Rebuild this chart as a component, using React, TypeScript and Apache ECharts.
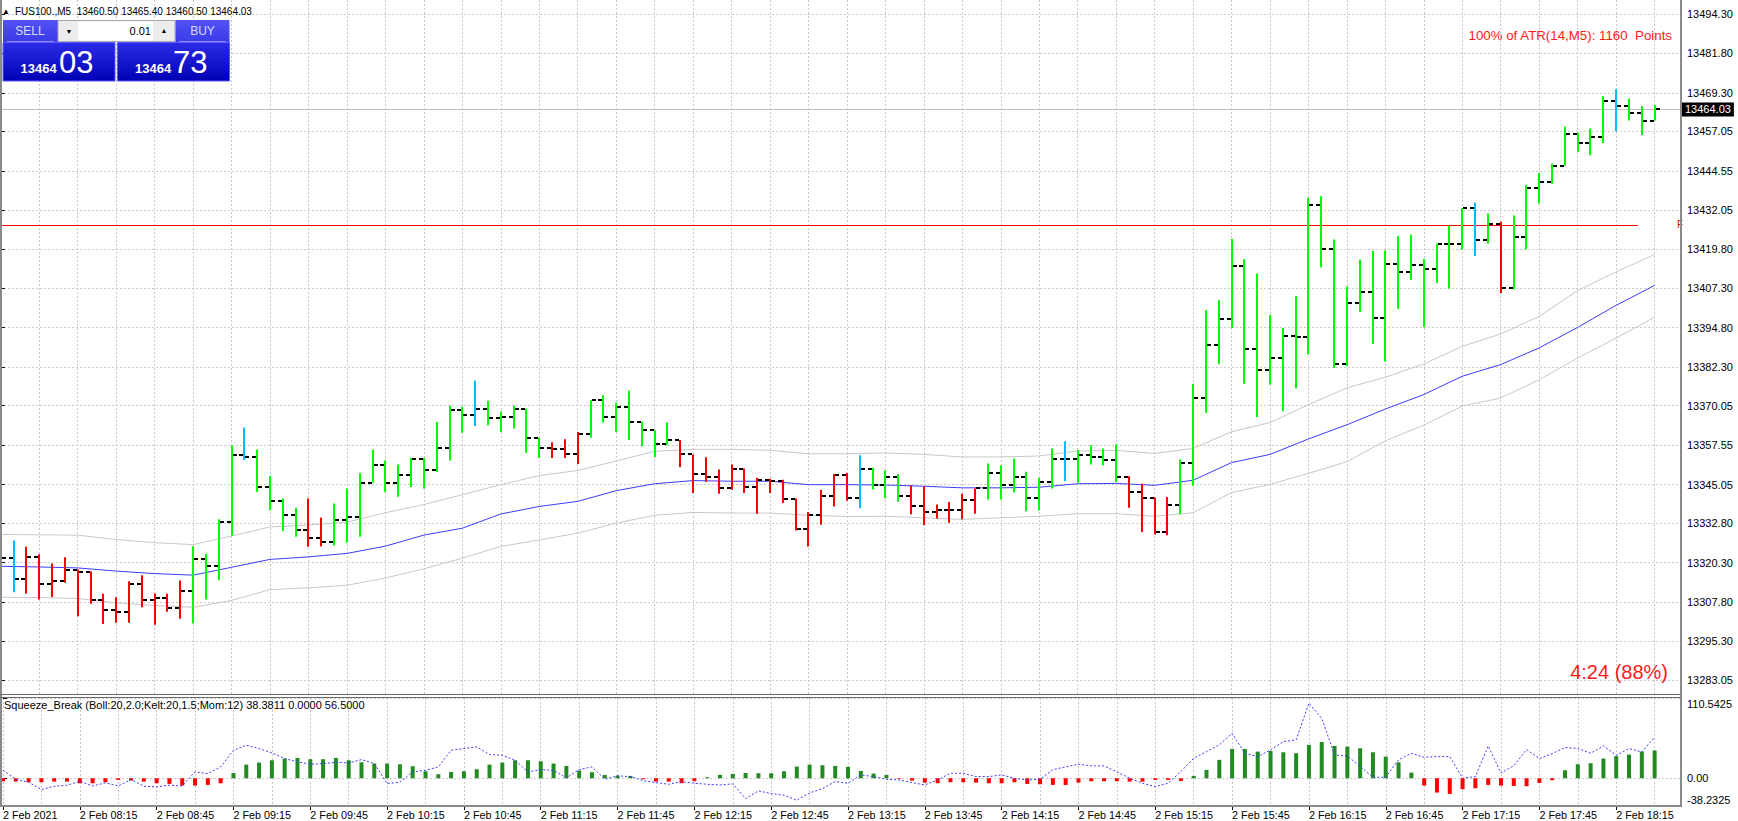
import React, { useEffect, useRef } from "react";
import * as echarts from "echarts";

// ---------- data ----------
const barOpen = [
  13320.0, 13321.6, 13315.1, 13322.1, 13313.5, 13314.4, 13317.9, 13317.4, 13308.4, 13305.4,
  13304.7, 13313.5, 13308.3, 13309.1, 13305.9, 13311.2, 13321.5, 13319.1, 13333.2, 13354.3,
  13353.8, 13344.3, 13339.8, 13335.5, 13330.6, 13328.1, 13326.8, 13333.7, 13334.7, 13345.6,
  13351.2, 13345.4, 13348.2, 13353.3, 13349.8, 13356.7, 13368.6, 13367.1, 13369.1, 13366.1,
  13366.5, 13368.9, 13359.9, 13356.5, 13356.2, 13354.8, 13361.0, 13371.8, 13366.5, 13369.7,
  13365.0, 13362.3, 13357.8, 13359.2, 13354.6, 13348.4, 13347.4, 13344.0, 13350.1, 13344.2,
  13346.4, 13346.3, 13340.6, 13330.9, 13335.3, 13341.3, 13348.2, 13340.8, 13350.1, 13344.8,
  13347.4, 13341.4, 13338.2, 13336.3, 13336.9, 13336.9, 13340.0, 13343.8, 13348.6, 13344.8,
  13347.5, 13340.7, 13345.8, 13353.2, 13353.0, 13354.3, 13353.8, 13352.8, 13347.5, 13342.7,
  13340.9, 13330.1, 13338.7, 13352.0, 13372.4, 13389.3, 13397.7, 13414.4, 13387.9, 13381.3,
  13385.3, 13392.1, 13391.8, 13433.7, 13419.9, 13383.4, 13402.7, 13406.1, 13397.9, 13415.0,
  13412.5, 13414.8, 13413.4, 13421.5, 13421.5, 13432.8, 13422.5, 13427.8, 13407.4, 13423.6,
  13439.2, 13441.0, 13446.2, 13456.1, 13453.4, 13455.3, 13466.7, 13465.1, 13463.0, 13460.5,
];
const barHigh = [
  13326.2, 13327.3, 13325.3, 13322.9, 13320.0, 13322.0, 13318.1, 13317.5, 13310.4, 13309.3,
  13314.4, 13316.3, 13310.5, 13310.4, 13314.6, 13325.5, 13323.1, 13334.0, 13357.4, 13363.1,
  13356.2, 13347.7, 13340.6, 13337.7, 13340.6, 13334.5, 13339.0, 13343.8, 13348.6, 13356.2,
  13352.7, 13351.4, 13353.5, 13353.5, 13364.9, 13370.0, 13369.7, 13378.0, 13371.6, 13368.2,
  13370.0, 13369.1, 13359.9, 13358.5, 13359.4, 13361.7, 13371.8, 13373.4, 13371.0, 13374.8,
  13365.0, 13362.3, 13364.7, 13359.2, 13354.6, 13353.7, 13349.8, 13351.4, 13350.1, 13347.2,
  13346.9, 13346.6, 13340.6, 13336.3, 13343.4, 13348.4, 13348.7, 13354.3, 13350.4, 13349.5,
  13348.3, 13344.8, 13344.4, 13338.7, 13339.5, 13342.1, 13343.8, 13351.7, 13351.2, 13353.3,
  13349.1, 13347.2, 13356.5, 13358.8, 13355.9, 13357.5, 13356.5, 13357.8, 13347.7, 13345.3,
  13340.9, 13341.1, 13353.0, 13377.0, 13400.3, 13403.5, 13422.9, 13416.5, 13412.0, 13398.8,
  13394.7, 13404.8, 13436.0, 13436.5, 13422.8, 13407.9, 13416.4, 13419.1, 13419.3, 13423.8,
  13424.3, 13416.6, 13421.5, 13427.2, 13432.8, 13434.4, 13431.0, 13428.4, 13430.4, 13440.0,
  13443.9, 13446.9, 13458.5, 13456.6, 13458.0, 13468.2, 13470.4, 13467.5, 13465.1, 13465.4,
];
const barLow = [
  13318.1, 13310.9, 13310.5, 13308.6, 13309.4, 13313.9, 13303.3, 13307.2, 13300.8, 13301.2,
  13301.2, 13306.1, 13300.6, 13304.7, 13302.5, 13301.0, 13308.6, 13314.7, 13328.9, 13352.8,
  13342.7, 13336.9, 13330.3, 13328.5, 13325.3, 13325.5, 13325.7, 13326.6, 13328.5, 13345.6,
  13342.7, 13341.2, 13344.3, 13343.8, 13349.0, 13352.7, 13361.5, 13363.6, 13363.8, 13361.7,
  13362.8, 13355.1, 13353.5, 13353.5, 13353.5, 13351.6, 13359.9, 13364.7, 13361.7, 13359.2,
  13357.2, 13353.8, 13357.5, 13350.6, 13342.4, 13345.9, 13342.1, 13343.4, 13342.4, 13335.8,
  13342.4, 13339.2, 13330.5, 13325.4, 13332.3, 13338.1, 13339.9, 13337.5, 13343.5, 13340.7,
  13339.6, 13335.6, 13332.2, 13334.3, 13332.9, 13334.0, 13335.8, 13340.3, 13340.3, 13342.5,
  13336.6, 13336.8, 13343.8, 13346.2, 13345.6, 13351.4, 13351.1, 13345.8, 13337.7, 13330.0,
  13329.2, 13329.0, 13335.6, 13344.6, 13367.8, 13383.2, 13394.6, 13377.0, 13366.5, 13376.8,
  13368.3, 13375.5, 13386.3, 13414.0, 13382.0, 13382.6, 13399.8, 13389.6, 13384.1, 13400.8,
  13409.9, 13394.9, 13409.0, 13407.2, 13419.6, 13417.5, 13421.5, 13405.8, 13406.9, 13419.6,
  13434.2, 13440.5, 13446.2, 13450.6, 13449.5, 13453.4, 13457.1, 13460.5, 13455.9, 13460.5,
];
const barClose = [
  13321.6, 13315.1, 13322.1, 13313.5, 13314.4, 13317.9, 13317.4, 13308.4, 13305.4, 13304.7,
  13313.5, 13308.3, 13309.1, 13305.9, 13311.2, 13321.5, 13319.1, 13333.2, 13354.3, 13353.8,
  13344.3, 13339.8, 13335.5, 13330.6, 13328.1, 13326.8, 13333.7, 13334.7, 13345.6, 13351.2,
  13345.4, 13348.2, 13353.3, 13349.8, 13356.7, 13368.6, 13367.1, 13369.1, 13366.1, 13366.5,
  13368.9, 13359.9, 13356.5, 13356.2, 13354.8, 13361.0, 13371.8, 13366.5, 13369.7, 13365.0,
  13362.3, 13357.8, 13359.2, 13354.6, 13348.4, 13347.4, 13344.0, 13350.1, 13344.2, 13346.4,
  13346.3, 13340.6, 13330.9, 13335.3, 13341.3, 13348.2, 13340.8, 13350.1, 13344.8, 13347.4,
  13341.4, 13338.2, 13336.3, 13336.9, 13336.9, 13340.0, 13343.8, 13348.6, 13344.8, 13347.5,
  13340.7, 13345.8, 13353.2, 13353.0, 13354.3, 13353.8, 13352.8, 13347.5, 13342.7, 13340.9,
  13330.1, 13338.7, 13352.0, 13372.4, 13389.3, 13397.7, 13414.4, 13387.9, 13381.3, 13385.3,
  13392.1, 13391.8, 13433.7, 13419.9, 13383.4, 13402.7, 13406.1, 13397.9, 13415.0, 13412.5,
  13414.8, 13413.4, 13421.5, 13421.5, 13432.8, 13422.5, 13427.8, 13407.4, 13423.6, 13439.2,
  13441.0, 13446.2, 13456.1, 13453.4, 13455.3, 13466.7, 13465.1, 13463.0, 13460.5, 13464.03,
];
// g = green, r = red, b = blue bar colouring
const barTone = (
  "gb" + "rrrrrrrrrrrrr" + "gggg" + "b" + "gggg" + "rr" + "ggggggggggg" + "b" + "ggggg" + "rrr" +
  "ggggggg" + "rrrrrrrrrrrrrr" + "b" + "ggg" + "rrrrrr" + "gggggg" + "b" + "gggg" + "rrrr" +
  "ggggggggggggggggggggggg" + "b" + "g" + "r" + "gggggggg" + "b" + "ggg"
).split("");

// envelope (read every 3 bars)
const bandBars = [
  0, 3, 6, 9, 12, 15, 18, 21, 24, 27, 30, 33, 36, 39, 42, 45, 48, 51, 54, 57, 60, 63,
  66, 69, 72, 75, 78, 81, 84, 87, 90, 93, 96, 99, 102, 105, 108, 111, 114, 117, 120, 123, 126, 129,
];
const maMid = [
  13319.1, 13318.9, 13318.6, 13317.6, 13316.8, 13316.3, 13318.8, 13321.3, 13322.1, 13323.2, 13325.5,
  13329.0, 13331.2, 13335.7, 13338.1, 13339.7, 13343.1, 13345.3, 13346.3, 13346.1, 13346.1, 13345.0,
  13345.0, 13344.9, 13344.5, 13344.0, 13344.0, 13344.2, 13345.3, 13345.4, 13344.8, 13346.4, 13352.0,
  13354.6, 13359.5, 13364.0, 13369.0, 13373.6, 13379.4, 13383.1, 13388.4, 13394.9, 13401.9, 13408.2,
];
const bandUpper = [
  13329.2, 13329.1, 13329.0, 13327.6, 13326.6, 13326.0, 13328.7, 13331.6, 13332.2, 13333.1, 13336.1,
  13338.7, 13341.8, 13345.0, 13347.9, 13349.5, 13352.5, 13355.6, 13356.2, 13356.2, 13355.9, 13354.8,
  13354.8, 13355.1, 13354.6, 13353.8, 13353.8, 13354.1, 13355.7, 13355.9, 13354.9, 13356.5, 13361.8,
  13364.7, 13370.4, 13375.7, 13379.1, 13383.3, 13388.9, 13392.8, 13398.4, 13406.6, 13412.5, 13418.0,
];
const bandLower = [
  13309.3, 13309.2, 13308.9, 13307.5, 13306.7, 13306.1, 13308.3, 13311.7, 13312.3, 13313.1, 13315.4,
  13318.3, 13321.7, 13325.4, 13327.5, 13329.6, 13332.8, 13335.3, 13336.2, 13336.0, 13336.0, 13335.3,
  13334.9, 13335.0, 13334.5, 13334.0, 13334.5, 13335.0, 13335.8, 13335.8, 13335.0, 13336.1, 13342.5,
  13345.1, 13348.6, 13352.3, 13358.9, 13363.9, 13369.9, 13372.5, 13378.3, 13385.2, 13391.5, 13398.1,
];

const squeezeHist = [
  -4.1, -4.6, -5.5, -5.5, -4.6, -4.6, -6.9, -6.9, -5.5, -2.3,
  -3.2, -4.6, -6.9, -7.8, -10.1, -10.1, -9.2, -6.9, 7.3, 18.8,
  21.6, 24.8, 27.1, 28.0, 26.2, 26.2, 28.0, 24.8, 22.0, 20.2,
  20.2, 19.3, 16.5, 9.6, 5.5, 8.7, 9.6, 12.4, 18.8, 21.6,
  24.8, 24.8, 23.4, 20.2, 17.0, 10.5, 8.3, 4.6, 3.7, 3.2,
  -1.4, -4.6, -4.6, -6.9, -4.1, 1.4, 4.6, 6.0, 7.3, 6.9,
  6.9, 9.6, 16.1, 18.8, 17.9, 17.0, 15.6, 10.1, 6.4, 4.6,
  -0.9, -3.2, -6.0, -6.9, -5.5, -5.5, -6.0, -6.9, -6.9, -5.5,
  -7.8, -8.3, -9.2, -9.2, -6.0, -4.1, -4.1, -4.1, -4.6, -4.6,
  -2.3, -2.3, -3.7, 3.2, 11.5, 25.3, 40.4, 40.4, 36.7, 37.6,
  35.8, 34.4, 45.9, 50.0, 44.5, 43.6, 41.3, 35.8, 29.8, 22.0,
  7.8, -10.1, -19.7, -21.6, -15.1, -13.8, -9.2, -10.1, -10.6, -11.0,
  -6.5, -2.7, 11.0, 19.3, 20.7, 27.1, 30.5, 32.6, 36.7, 38.3811,
];
const squeezeMom = [
  11.0, -1.4, -5.5, -15.6, -11.0, -9.6, -4.1, -10.6, -6.4, -10.6,
  -1.8, -11.0, -11.9, -9.6, -10.6, 8.7, 6.4, 15.6, 38.6, 45.5,
  40.9, 34.9, 27.1, 22.5, 19.3, 20.2, 22.0, 21.1, 25.7, 20.2,
  -7.3, -5.5, 8.7, 11.0, 15.6, 38.6, 40.9, 43.2, 32.6, 31.7,
  24.8, 8.7, 11.9, 11.0, 0.5, 11.9, 15.6, -1.4, 3.2, 2.3,
  -3.2, -6.0, -8.3, -4.6, -6.9, -8.3, -9.2, -7.8, -27.9, -17.4,
  -21.1, -23.4, -30.3, -20.2, -14.2, -4.6, -6.9, 4.6, 2.3, -1.4,
  -2.3, -6.0, -9.2, -2.3, 6.9, 6.9, 2.3, 2.3, 4.6, 0.0,
  -2.3, -1.4, 11.9, 15.6, 19.3, 17.0, 17.0, 8.7, 0.0, -6.9,
  -11.5, -6.9, 9.2, 27.5, 36.7, 45.9, 61.9, 34.4, 29.8, 39.0,
  50.5, 52.8, 103.3, 82.6, 32.1, 30.7, 16.1, 1.4, 1.4, 25.3,
  34.4, 28.9, 29.8, 29.8, 0.0, 2.3, 44.5, 7.3, 17.2, 39.5,
  27.1, 34.0, 42.3, 40.9, 34.4, 44.5, 31.7, 40.9, 36.2, 56.5,
];

const timeLabels = [
  "2 Feb 2021", "2 Feb 08:15", "2 Feb 08:45", "2 Feb 09:15", "2 Feb 09:45", "2 Feb 10:15",
  "2 Feb 10:45", "2 Feb 11:15", "2 Feb 11:45", "2 Feb 12:15", "2 Feb 12:45", "2 Feb 13:15",
  "2 Feb 13:45", "2 Feb 14:15", "2 Feb 14:45", "2 Feb 15:15", "2 Feb 15:45", "2 Feb 16:15",
  "2 Feb 16:45", "2 Feb 17:15", "2 Feb 17:45", "2 Feb 18:15",
];
const timeLabelBars = [0, 6, 12, 18, 24, 30, 36, 42, 48, 54, 60, 66, 72, 78, 84, 90, 96, 102, 108, 114, 120, 126];
const gridBars = bandBars;
const priceTicks = [
  13494.3, 13481.8, 13469.3, 13457.05, 13444.55, 13432.05, 13419.8, 13407.3, 13394.8,
  13382.3, 13370.05, 13357.55, 13345.05, 13332.8, 13320.3, 13307.8, 13295.3, 13283.05,
];
const indicatorTicks = [-38.2325, 0, 110.5425];

const lastPrice = 13464.03;
const redLevel = 13427.3;
const redLineEndBar = 127.7;

const XMIN = -0.0624;
const XMAX = 131.06;
const PMIN = 13278.29;
const PMAX = 13498.74;
const IMIN = -38.2325;
const IMAX = 110.5425;

const toneColor: Record<string, string> = { g: "#00ff00", r: "#ff0000", b: "#00bfff" };
const FONT = "Liberation Sans";
const GRIDLINE = { show: true, lineStyle: { color: "#c8c8c8", width: 1, type: [2, 2] as any } };

function buildOption(): any {
  const ohlc = barOpen.map((o, i) => [i, o, barHigh[i], barLow[i], barClose[i]]);
  const lg = (a: string, b: string) =>
    new echarts.graphic.LinearGradient(0, 0, 0, 1, [
      { offset: 0, color: a },
      { offset: 1, color: b },
    ]);
  const BORDER = "#6b6b6b";
  const graphic: any[] = [
    // pane borders
    { type: "line", z: 50, shape: { x1: 1, y1: 0, x2: 1, y2: 806 }, style: { stroke: "#8a8a8a", lineWidth: 2 } },
    { type: "line", z: 50, shape: { x1: 0, y1: 694.5, x2: 1681, y2: 694.5 }, style: { stroke: BORDER, lineWidth: 1 } },
    { type: "line", z: 50, shape: { x1: 0, y1: 697.5, x2: 1681, y2: 697.5 }, style: { stroke: BORDER, lineWidth: 1 } },
    { type: "line", z: 50, shape: { x1: 0, y1: 806, x2: 1682, y2: 806 }, style: { stroke: "#8a8a8a", lineWidth: 2 } },
    { type: "line", z: 50, shape: { x1: 1681, y1: 0, x2: 1681, y2: 807 }, style: { stroke: "#8a8a8a", lineWidth: 2 } },
    // symbol header
    { type: "text", z: 60, style: { x: 2, y: 11, text: "▲", font: `8px ${FONT}`, fill: "#000", verticalAlign: "middle" } },
    {
      type: "text", z: 60,
      style: { x: 15, y: 11, text: "FUS100.,M5  13460.50 13465.40 13460.50 13464.03", font: `10px ${FONT}`, fill: "#000", verticalAlign: "middle" },
    },
    // one-click trading panel
    { type: "rect", z: 60, shape: { x: 3, y: 20, width: 55, height: 22 }, style: { fill: lg("#5252f4", "#3a3aea") } },
    { type: "line", z: 61, shape: { x1: 7, y1: 41.5, x2: 54, y2: 41.5 }, style: { stroke: "#8c8cff", lineWidth: 1 } },
    { type: "text", z: 61, style: { x: 30, y: 31, text: "SELL", font: `12px ${FONT}`, fill: "#d4dcff", align: "center", verticalAlign: "middle" } },
    { type: "rect", z: 60, shape: { x: 58, y: 20.5, width: 117, height: 21 }, style: { fill: "#ececec", stroke: "#a8a8a8", lineWidth: 1 } },
    { type: "rect", z: 61, shape: { x: 78, y: 21.5, width: 75, height: 19 }, style: { fill: "#ffffff" } },
    { type: "text", z: 62, style: { x: 69, y: 31, text: "▼", font: `7px ${FONT}`, fill: "#000", align: "center", verticalAlign: "middle" } },
    { type: "text", z: 62, style: { x: 164, y: 30, text: "▲", font: `7px ${FONT}`, fill: "#000", align: "center", verticalAlign: "middle" } },
    { type: "text", z: 62, style: { x: 151, y: 31, text: "0.01", font: `11px ${FONT}`, fill: "#000", align: "right", verticalAlign: "middle" } },
    { type: "rect", z: 60, shape: { x: 175.5, y: 20, width: 54, height: 22 }, style: { fill: lg("#5252f4", "#3a3aea") } },
    { type: "line", z: 61, shape: { x1: 179, y1: 41.5, x2: 226, y2: 41.5 }, style: { stroke: "#8c8cff", lineWidth: 1 } },
    { type: "text", z: 61, style: { x: 202.5, y: 31, text: "BUY", font: `12px ${FONT}`, fill: "#d4dcff", align: "center", verticalAlign: "middle" } },
    { type: "rect", z: 60, shape: { x: 3, y: 42.5, width: 112, height: 38.5 }, style: { fill: lg("#2c2ce8", "#0000b4"), stroke: "#5a5aff", lineWidth: 1 } },
    { type: "rect", z: 60, shape: { x: 117.5, y: 42.5, width: 112, height: 38.5 }, style: { fill: lg("#2c2ce8", "#0000b4"), stroke: "#5a5aff", lineWidth: 1 } },
    { type: "text", z: 61, style: { x: 20.5, y: 68.5, text: "13464", font: `bold 13px ${FONT}`, fill: "#fff", verticalAlign: "middle" } },
    { type: "text", z: 61, style: { x: 59, y: 62.5, text: "03", font: `31px ${FONT}`, fill: "#fff", verticalAlign: "middle" } },
    { type: "text", z: 61, style: { x: 135, y: 68.5, text: "13464", font: `bold 13px ${FONT}`, fill: "#fff", verticalAlign: "middle" } },
    { type: "text", z: 61, style: { x: 173, y: 62.5, text: "73", font: `31px ${FONT}`, fill: "#fff", verticalAlign: "middle" } },
    // info texts
    {
      type: "text", z: 60,
      style: { x: 1672, y: 35, text: "100% of ATR(14,M5): 1160  Points", font: `13.3px ${FONT}`, fill: "#ff1a1a", align: "right", verticalAlign: "middle" },
    },
    { type: "text", z: 60, style: { x: 1668, y: 672, text: "4:24 (88%)", font: `20px ${FONT}`, fill: "#ff1a1a", align: "right", verticalAlign: "middle" } },
    { type: "text", z: 40, style: { x: 1677, y: 224.5, text: "F", font: `10px ${FONT}`, fill: "#ff0000", verticalAlign: "middle" } },
    {
      type: "text", z: 60,
      style: { x: 4, y: 705, text: "Squeeze_Break (Boll:20,2.0;Kelt:20,1.5;Mom:12) 38.3811 0.0000 56.5000", font: `11px ${FONT}`, fill: "#000", verticalAlign: "middle" },
    },
  ];

  return {
    animation: false,
    backgroundColor: "#ffffff",
    textStyle: { fontFamily: FONT },
    grid: [
      { left: 0, top: 0, width: 1681, height: 695 },
      { left: 0, top: 698, width: 1681, height: 108 },
    ],
    xAxis: [
      {
        type: "value", gridIndex: 0, min: XMIN, max: XMAX,
        axisLine: { show: false }, axisLabel: { show: false },
        axisTick: { show: false, customValues: gridBars },
        splitLine: GRIDLINE,
      },
      {
        type: "value", gridIndex: 1, min: XMIN, max: XMAX,
        axisLine: { show: false }, axisLabel: { show: false },
        axisTick: { show: false, customValues: gridBars },
        splitLine: GRIDLINE,
      },
      {
        type: "value", gridIndex: 1, min: XMIN, max: XMAX, position: "bottom",
        axisLine: { show: false },
        splitLine: { show: false },
        axisTick: { show: true, length: 4, customValues: timeLabelBars, lineStyle: { color: "#000" } },
        axisLabel: {
          customValues: timeLabelBars, align: "left", margin: 3, fontSize: 10.8, color: "#000", fontFamily: FONT,
          formatter: (v: number) => timeLabels[timeLabelBars.indexOf(Math.round(v))] ?? "",
        },
      },
    ],
    yAxis: [
      {
        type: "value", gridIndex: 0, position: "right", min: PMIN, max: PMAX,
        axisLine: { show: false },
        axisTick: { show: true, length: 4, customValues: priceTicks, lineStyle: { color: "#000" } },
        axisLabel: {
          customValues: priceTicks, margin: 6, fontSize: 11, color: "#000", fontFamily: FONT,
          formatter: (v: number) => v.toFixed(2),
        },
        splitLine: GRIDLINE,
      },
      {
        type: "value", gridIndex: 1, position: "right", min: IMIN, max: IMAX,
        axisLine: { show: false },
        axisTick: { show: true, length: 4, customValues: indicatorTicks, lineStyle: { color: "#000" } },
        axisLabel: {
          customValues: indicatorTicks, margin: 6, fontSize: 11, color: "#000", fontFamily: FONT,
          formatter: (v: number) => (v > 0 ? `{t|${v.toFixed(4)}}` : v < 0 ? `{b|${v.toFixed(4)}}` : "0.00"),
          rich: {
            t: { padding: [12, 0, 0, 0], fontSize: 11, color: "#000", fontFamily: FONT },
            b: { padding: [0, 0, 12, 0], fontSize: 11, color: "#000", fontFamily: FONT },
          },
        },
        splitLine: GRIDLINE,
      },
    ],
    series: [
      {
        name: "upper", type: "line", xAxisIndex: 0, yAxisIndex: 0, z: 2,
        data: bandBars.map((b, k) => [b, bandUpper[k]]),
        symbol: "none", lineStyle: { color: "#c8c8c8", width: 1 }, silent: true,
        markLine: {
          silent: true, symbol: ["none", "none"], label: { show: false },
          lineStyle: { color: "#ff0000", width: 1, type: "solid" },
          data: [[{ coord: [XMIN, redLevel] }, { coord: [redLineEndBar, redLevel] }]],
        },
      },
      {
        name: "lower", type: "line", xAxisIndex: 0, yAxisIndex: 0, z: 2,
        data: bandBars.map((b, k) => [b, bandLower[k]]),
        symbol: "none", lineStyle: { color: "#c8c8c8", width: 1 }, silent: true,
      },
      {
        name: "ma", type: "line", xAxisIndex: 0, yAxisIndex: 0, z: 3,
        data: bandBars.map((b, k) => [b, maMid[k]]),
        symbol: "none", lineStyle: { color: "#3c3cff", width: 1 }, silent: true,
        markLine: {
          silent: true, symbol: ["none", "none"],
          lineStyle: { color: "#c0c0c0", width: 1, type: "solid" },
          label: {
            show: true, position: "end", formatter: lastPrice.toFixed(2), color: "#fff", backgroundColor: "#000",
            padding: [2, 3, 1, 3], fontSize: 11, fontFamily: FONT, distance: 1,
          },
          data: [{ yAxis: lastPrice }],
        },
      },
      {
        name: "bars", type: "custom", xAxisIndex: 0, yAxisIndex: 0, z: 5,
        data: ohlc,
        encode: { x: 0, y: [1, 2, 3, 4] },
        renderItem: (params: any, api: any) => {
          const i = api.value(0);
          const pO = api.coord([i, api.value(1)]);
          const pH = api.coord([i, api.value(2)]);
          const pL = api.coord([i, api.value(3)]);
          const pC = api.coord([i, api.value(4)]);
          const x = Math.round(pH[0]);
          const col = toneColor[barTone[params.dataIndex]] || "#00ff00";
          const yo = Math.round(pO[1]);
          const yc = Math.round(pC[1]);
          return {
            type: "group",
            children: [
              { type: "rect", shape: { x: x - 1, y: pH[1], width: 2, height: Math.max(1, pL[1] - pH[1]) }, style: { fill: col } },
              { type: "rect", shape: { x: x - 5, y: yo - 1, width: 4, height: 2 }, style: { fill: "#000" } },
              { type: "rect", shape: { x: x + 1, y: yc - 1, width: 4, height: 2 }, style: { fill: "#000" } },
            ],
          };
        },
      },
      {
        name: "hist", type: "bar", xAxisIndex: 1, yAxisIndex: 1, z: 3,
        data: squeezeHist.map((v, i) => [i, v]),
        barWidth: 4,
        itemStyle: { color: (p: any) => (p.value[1] >= 0 ? "#228b22" : "#ff0000") },
        silent: true,
      },
      {
        name: "mom", type: "line", xAxisIndex: 1, yAxisIndex: 1, z: 4,
        data: squeezeMom.map((v, i) => [i, v]),
        symbol: "none", lineStyle: { color: "#3c3cff", width: 1, type: [2, 2] }, silent: true,
      },
    ],
    graphic,
  };
}

export default function App() {
  const ref = useRef<HTMLDivElement>(null);
  useEffect(() => {
    document.body.style.margin = "0";
    document.body.style.background = "#ffffff";
    if (!ref.current) return;
    const chart = echarts.init(ref.current, undefined, { renderer: "svg" });
    chart.setOption(buildOption());
    return () => chart.dispose();
  }, []);
  return <div ref={ref} style={{ width: 1738, height: 821, background: "#fff" }} />;
}
